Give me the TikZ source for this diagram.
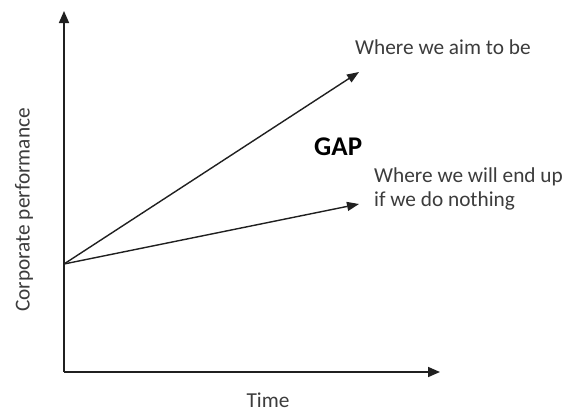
\documentclass[tikz,border=0pt]{standalone}
\usepackage{fontspec}
\setmainfont{Carlito}
\usetikzlibrary{arrows.meta}
\definecolor{txt}{HTML}{3C3C3C}
\definecolor{ln}{HTML}{202020}
\begin{document}
\begin{tikzpicture}[x=1pt,y=-1pt,
  axis/.style={draw=ln,line width=1.6pt,-{Triangle[length=12pt,width=10pt]}},
  trend/.style={draw=ln,line width=1.4pt,-{Triangle[length=12pt,width=9pt]}},
  lbl/.style={text=txt,font=\fontsize{21.3}{24}\selectfont,inner sep=0pt},
  gaplbl/.style={text=black,font=\fontsize{27}{30}\selectfont\bfseries,inner sep=0pt}]
\useasboundingbox[fill=white] (0,0) rectangle (567,413);
\coordinate (O) at (64,372);
\coordinate (Ytop) at (64,11);
\coordinate (Xend) at (440,372);
\coordinate (S) at (64,264);
\coordinate (Aim) at (359,72);
\coordinate (End) at (359,204);
\draw[axis] (O) -- (Ytop);
\draw[axis] (O) -- (Xend);
\draw[trend] (S) -- (Aim);
\draw[trend] (S) -- (End);
\node[lbl,anchor=base west] (aimlbl) at (355,54) {Where we aim to be};
\node[gaplbl,anchor=base west] (gap) at (314,155) {GAP};
\node[lbl,anchor=base west,align=left] (endlbl) at (374,206) {Where we will end up\\if we do nothing};
\node[lbl,rotate=90] (ylbl) at (24,210) {Corporate performance};
\node[lbl,anchor=base] (xlbl) at (268,407) {Time};
\end{tikzpicture}
\end{document}
